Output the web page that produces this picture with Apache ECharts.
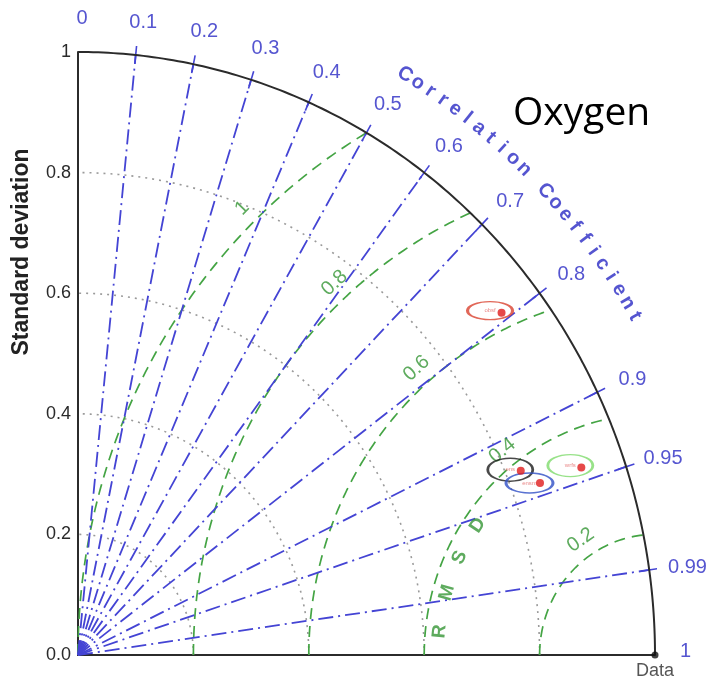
<!DOCTYPE html>
<html>
<head>
<meta charset="utf-8">
<script src="https://cdn.jsdelivr.net/npm/echarts@6/dist/echarts.min.js"></script>
<style>
  html, body { margin: 0; padding: 0; background: #ffffff; }
  #chart { width: 711px; height: 682px; }
</style>
</head>
<body>
<div id="chart"></div>
<script>
// Taylor diagram: dissolved oxygen, models against the reference data set

// correlation rays and their labels
const corrRays = [0.1, 0.2, 0.3, 0.4, 0.5, 0.6, 0.7, 0.8, 0.9, 0.95, 0.99];
const corrTicks = [0, 0.1, 0.2, 0.3, 0.4, 0.5, 0.6, 0.7, 0.8, 0.9, 0.95, 0.99, 1];
const corrTickText = ['0', '0.1', '0.2', '0.3', '0.4', '0.5', '0.6', '0.7', '0.8', '0.9', '0.95', '0.99', '1'];
// standard deviation arcs and axis ticks
const stdArcs = [0.2, 0.4, 0.6, 0.8];
const stdTicks = [0, 0.2, 0.4, 0.6, 0.8, 1];
const stdTickText = ['0.0', '0.2', '0.4', '0.6', '0.8', '1'];
// centred RMS difference contours
const rmsdLevels = [0.2, 0.4, 0.6, 0.8, 1];
const rmsdText = ['0.2', '0.4', '0.6', '0.8', '1'];
// model results
const modelNames = ['obsf', 'ens', 'ensm', 'wrfs'];
const modelStd = [0.928, 0.826, 0.850, 0.926];
const modelCorr = [0.791, 0.929, 0.942, 0.942];
// reference point
const refName = 'Data';
const refStd = 1;

// plot frame
const GRID = { left: 78, top: 52, width: 577, height: 603 };
const SX = GRID.width, SY = GRID.height;
const DEG = Math.PI / 180;

const BLUE = '#2a2ac4';
const RAY = '#4444d4';
const GREEN = '#369636';
const GREY = '#9a9a9a';
const AXIS = '#2b2b2b';
const FONT = '"Liberation Sans", Arial, sans-serif';

function polar(r, c) { return [r * c, r * Math.sqrt(Math.max(0, 1 - c * c))]; }
// on-screen angle (degrees, counter-clockwise) of a direction given in data units
function screenAngle(dx, dy) { return Math.atan2(dy * SY, dx * SX) / DEG; }

const series = [];

// grey dotted standard-deviation arcs
stdArcs.forEach(s => {
  const pts = [];
  for (let a = 0; a <= 90; a += 1) pts.push([s * Math.cos(a * DEG), s * Math.sin(a * DEG)]);
  series.push({ type: 'line', data: pts, showSymbol: false, clip: false, silent: true, z: 1,
    lineStyle: { color: GREY, width: 1.6, type: [2, 5] } });
});

// green dashed RMSD circles centred on the reference point
rmsdLevels.forEach(rr => {
  const xEnd = 1 - rr * rr / 2;
  const phiEnd = Math.atan2(Math.sqrt(1 - xEnd * xEnd), xEnd - 1) / DEG;
  const pts = [];
  for (let p = 180; p >= phiEnd; p -= 0.5) pts.push([refStd + rr * Math.cos(p * DEG), rr * Math.sin(p * DEG)]);
  pts.push([xEnd, Math.sqrt(1 - xEnd * xEnd)]);
  series.push({ type: 'line', data: pts, showSymbol: false, clip: false, silent: true, z: 2,
    lineStyle: { color: '#44a444', width: 1.7, type: [11, 7] } });
});

// blue dash-dot correlation rays with a tick on the outer arc
corrRays.forEach(c => {
  series.push({ type: 'line', data: [[0, 0], polar(1, c)], showSymbol: false, clip: false, silent: true, z: 3,
    lineStyle: { color: RAY, width: 1.8, type: [15, 5, 2, 5] } });
  series.push({ type: 'line', data: [polar(0.985, c), polar(1.015, c)], showSymbol: false, clip: false, silent: true, z: 3,
    lineStyle: { color: RAY, width: 1.6 } });
});

// outer arc (std = 1)
(function () {
  const pts = [];
  for (let a = 0; a <= 90; a += 0.5) pts.push([Math.cos(a * DEG), Math.sin(a * DEG)]);
  series.push({ type: 'line', data: pts, showSymbol: false, clip: false, silent: true, z: 4,
    lineStyle: { color: AXIS, width: 2 } });
})();

// text helper: a scatter point with an invisible symbol carrying a label
function textSeries(items, font) {
  return {
    type: 'scatter', clip: false, silent: true, z: 6, symbolSize: 1,
    itemStyle: { color: 'rgba(0,0,0,0)' },
    label: Object.assign({ show: true, position: 'inside', formatter: '{b}' }, font),
    data: items
  };
}

// correlation tick labels
series.push(textSeries(corrTicks.map((c, i) => ({
  name: corrTickText[i], value: polar(1.06, c),
  label: { offset: c === 1 ? [-4, -4] : [4, 3] }
})), { fontSize: 20, color: BLUE, fontFamily: FONT }));

// curved "Correlation Coefficient" caption
(function () {
  const txt = 'Correlation Coefficient';
  const a0 = 59.5, a1 = 30.2, r = 1.117;
  const items = [];
  for (let i = 0; i < txt.length; i++) {
    if (txt[i] === ' ') continue;
    const a = (a0 - i * (a0 - a1) / (txt.length - 1)) * DEG;
    items.push({ name: txt[i], value: [r * Math.cos(a), r * Math.sin(a)],
      label: { rotate: screenAngle(Math.sin(a), -Math.cos(a)) } });
  }
  series.push(textSeries(items, { fontSize: 20, fontWeight: 'bold', color: BLUE, fontFamily: FONT }));
})();

// RMSD contour labels
(function () {
  const phis = [124, 128, 131, 132, 134];
  const items = rmsdLevels.map((rr, i) => {
    const phi = phis[i] * DEG, rl = rr + 0.03;
    return { name: rmsdText[i],
      value: [refStd + rl * Math.cos(phi), rl * Math.sin(phi)],
      label: { rotate: screenAngle(Math.sin(phi), -Math.cos(phi)) } };
  });
  series.push(textSeries(items, { fontSize: 20, color: GREEN, fontFamily: FONT }));
})();

// "RMSD" written along the 0.4 contour
(function () {
  const letters = ['R', 'M', 'S', 'D'];
  const phis = [174, 164, 154.5, 145];
  const rr = 0.375;
  const items = letters.map((ch, i) => {
    const p = phis[i] * DEG;
    return { name: ch, value: [refStd + rr * Math.cos(p), rr * Math.sin(p)],
      label: { rotate: screenAngle(Math.sin(p), -Math.cos(p)) } };
  });
  series.push(textSeries(items, { fontSize: 19, fontWeight: 'bold', color: GREEN, fontFamily: FONT }));
})();

// model markers: outlined ellipse with the model name, plus the red point
const ellipseColors = ['#d9412e', '#1c1c1c', '#2f4fc6', '#7edb6c'];
const ellipseSizes = [[45, 18], [45, 23], [47, 20], [45, 22]];
const ellipseShift = [[-11.5, -2], [-10.5, -1], [-10.5, 0], [-11, -2]];
series.push({
  type: 'scatter', clip: false, silent: true, z: 7, symbol: 'circle',
  data: modelNames.map((n, i) => ({
    name: n, value: polar(modelStd[i], modelCorr[i]),
    symbolSize: ellipseSizes[i], symbolOffset: ellipseShift[i],
    itemStyle: { color: 'rgba(255,255,255,0)', borderColor: ellipseColors[i], borderWidth: 2 }
  })),
  label: { show: true, formatter: '{b}', position: 'inside', fontSize: 6, color: '#e46a6a', fontFamily: FONT }
});
series.push({
  type: 'scatter', clip: false, silent: true, z: 8, symbolSize: 8,
  itemStyle: { color: '#e01b1b' },
  data: modelNames.map((n, i) => polar(modelStd[i], modelCorr[i]))
});

// reference point
series.push({
  type: 'scatter', clip: false, silent: true, z: 8, symbolSize: 7,
  itemStyle: { color: '#111' },
  data: [{ name: refName, value: [refStd, 0] }],
  label: { show: true, formatter: '{b}', position: 'bottom', distance: 4, fontSize: 18, color: '#2a2a2a', fontFamily: FONT }
});

const option = {
  animation: false,
  backgroundColor: '#ffffff',
  grid: GRID,
  xAxis: {
    type: 'value', min: 0, max: 1,
    axisLine: { show: true, lineStyle: { color: AXIS, width: 2 } },
    axisTick: { show: false }, axisLabel: { show: false }, splitLine: { show: false }
  },
  yAxis: {
    type: 'value', min: 0, max: 1, interval: 0.2,
    axisLine: { show: true, lineStyle: { color: AXIS, width: 2 } },
    axisTick: { show: false }, splitLine: { show: false },
    axisLabel: {
      fontSize: 18, color: '#2a2a2a', margin: 7, fontFamily: FONT,
      formatter: v => {
        const i = stdTicks.findIndex(t => Math.abs(t - v) < 1e-9);
        return i >= 0 ? stdTickText[i] : '';
      }
    }
  },
  graphic: [
    { type: 'text', x: 22, y: 252, rotation: Math.PI / 2,
      style: { text: 'Standard deviation', font: 'bold 23px ' + FONT, fill: '#222', textAlign: 'center', textVerticalAlign: 'middle' } },
    { type: 'text', x: 513, y: 94,
      style: { text: 'Oxygen', font: '39px "Open Sans", sans-serif', fill: '#000', textAlign: 'left', textVerticalAlign: 'top' } }
  ],
  series: series
};

const chart = echarts.init(document.getElementById('chart'), null, { renderer: 'canvas' });
chart.setOption(option);
</script>
</body>
</html>
